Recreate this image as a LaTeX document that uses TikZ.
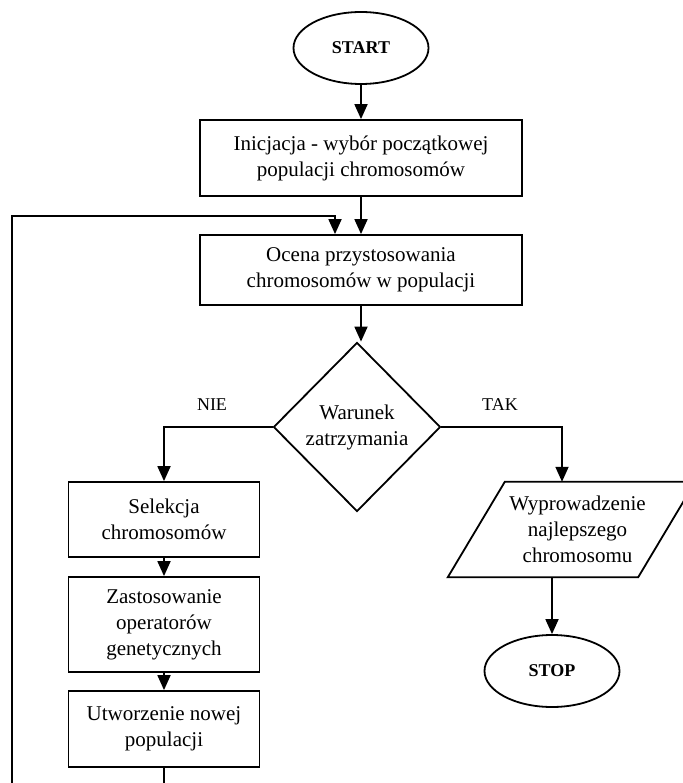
\documentclass[tikz,border=0pt]{standalone}
\usepackage{fontspec}
\setmainfont{Liberation Serif}
\usetikzlibrary{arrows.meta, shapes.geometric, positioning}

\begin{document}
\begin{tikzpicture}[x=1pt, y=-1pt,
    procbox/.style={rectangle, draw, line width=1.8pt, align=center, inner sep=0pt,
        font=\fontsize{21}{26}\selectfont},
    termin/.style={ellipse, draw, line width=1.8pt, inner sep=0pt,
        minimum width=135pt, minimum height=72pt, font=\fontsize{18}{22}\selectfont\bfseries},
    decis/.style={diamond, draw, line width=1.8pt, inner sep=0pt, aspect=1, align=center,
        minimum width=167pt, minimum height=169pt, font=\fontsize{21}{26}\selectfont},
    iobox/.style={rectangle, inner sep=0pt, align=center,
        minimum width=247pt, minimum height=95pt, font=\fontsize{21}{26}\selectfont},
    arrow/.style={-{Triangle[length=15pt, width=13pt]}, line width=1.8pt},
    lbl/.style={font=\fontsize{18}{22}\selectfont}
]
    \useasboundingbox (0,0) rectangle (682,783);

    \node[termin] (start) at (361, 48) {START};
    \node[procbox, minimum width=322pt, minimum height=76pt] (init) at (361, 158)
        {Inicjacja - wybór początkowej\\populacji chromosomów};
    \node[procbox, minimum width=322pt, minimum height=70pt] (ocena) at (361, 270)
        {Ocena przystosowania\\chromosomów w populacji};
    \node[decis] (cond) at (357, 427) {Warunek\\zatrzymania};

    \node[procbox, minimum width=191pt, minimum height=75pt] (sel) at (164, 519.5)
        {Selekcja\\chromosomów};
    \node[procbox, minimum width=191pt, minimum height=95pt] (oper) at (164, 624.5)
        {Zastosowanie\\operatorów\\genetycznych};
    \node[procbox, minimum width=191pt, minimum height=76pt] (nowa) at (164, 729)
        {Utworzenie nowej\\populacji};

    \node[iobox] (wyn) at (571.5, 529.5) {\hspace*{12pt}Wyprowadzenie\\\hspace*{12pt}najlepszego\\\hspace*{12pt}chromosomu};
    \draw[line width=1.8pt] (wyn.south west) -- ([xshift=-57pt]wyn.south east)
        -- (wyn.north east) -- ([xshift=57pt]wyn.north west) -- cycle;
    \node[termin] (stop) at (552, 671) {STOP};

    \node[lbl] (nie) at (212, 405) {NIE};
    \node[lbl] (tak) at (500, 405) {TAK};

    \draw[arrow] (start.south) -- (start.south |- init.north);
    \draw[arrow] (init.south) -- (init.south |- ocena.north);
    \draw[arrow] (ocena.south) -- (ocena.south |- cond.north);
    \draw[arrow] (cond.west) -| (sel.north);
    \draw[arrow] (cond.east) -| ([xshift=-9.5pt]wyn.north);
    \draw[arrow] (sel.south) -- (oper.north);
    \draw[arrow] (oper.south) -- (nowa.north);
    \draw[arrow] (stop |- wyn.south) -- (stop.north);

    % petla powrotna
    \coordinate (lb) at (12, 800);
    \coordinate (lt) at (12, 216);
    \draw[arrow] (nowa.south) |- (lb) -- (lt) -| ([xshift=-26pt]ocena.north);
\end{tikzpicture}
\end{document}
